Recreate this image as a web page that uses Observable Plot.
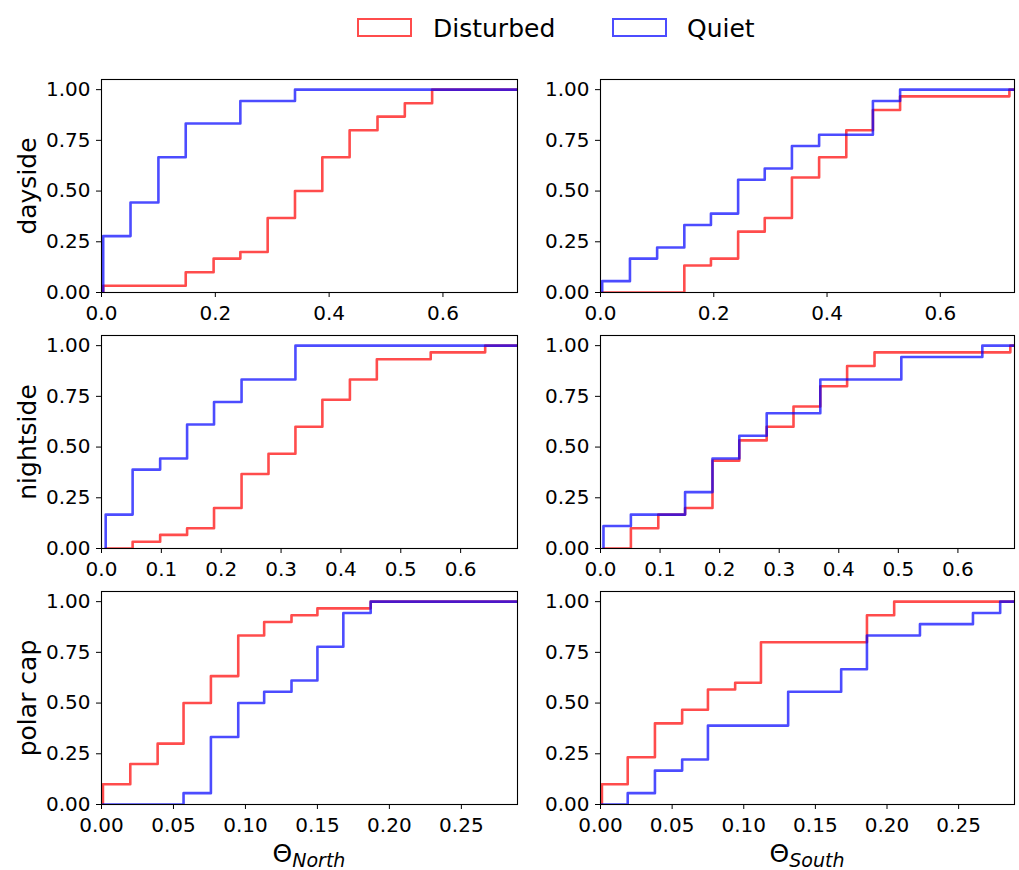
<!DOCTYPE html>
<html>
<head>
<meta charset="utf-8">
<script src="https://cdn.jsdelivr.net/npm/d3@7"></script>
<script src="https://cdn.jsdelivr.net/npm/@observablehq/plot@0.6"></script>
<style>
  html, body { margin: 0; padding: 0; background: white; }
  #wrap { position: relative; width: 1019px; height: 870px; font-family: "DejaVu Sans", sans-serif; color: black; overflow: hidden; }
  .panel { position: absolute; }
  .legbox { position: absolute; box-sizing: border-box; border: 2.5px solid; }
  .legtxt { position: absolute; font-size: 25px; line-height: 1; white-space: nowrap; }
  #xlabels { position: absolute; left: 0; top: 0; pointer-events: none; }
</style>
</head>
<body>
<div id="wrap">
  <div class="legbox" style="left:357px; top:18px; width:55px; height:19px; border-color: rgba(255,0,0,0.7);"></div>
  <div class="legtxt" style="left:433px; top:16px;">Disturbed</div>
  <div class="legbox" style="left:612px; top:18px; width:55px; height:19px; border-color: rgba(0,0,255,0.7);"></div>
  <div class="legtxt" style="left:687px; top:16px;">Quiet</div>
  <svg id="xlabels" width="1019" height="870" font-family="DejaVu Sans">
    <text x="309" y="862" text-anchor="middle" font-size="25">Θ<tspan font-size="19" font-style="italic" dy="5">North</tspan></text>
    <text x="807" y="862" text-anchor="middle" font-size="25">Θ<tspan font-size="19" font-style="italic" dy="5">South</tspan></text>
  </svg>
</div>
<script>
// ---------- data ----------
const seriesNames = ["Disturbed", "Quiet"];
const rowLabels = ["dayside", "nightside", "polar cap"];
const yTicks = [0, 0.25, 0.5, 0.75, 1.0];
const xTicksDay = [0, 0.2, 0.4, 0.6];
const xTicksNight = [0, 0.1, 0.2, 0.3, 0.4, 0.5, 0.6];
const xTicksPolar = [0, 0.05, 0.1, 0.15, 0.2, 0.25];
const xMaxDay = 0.731, xMaxNight = 0.695, xMaxPolar = 0.289;

// dayside, North
const dayNorthDistX = [0.003, 0.148, 0.197, 0.244, 0.292, 0.340, 0.388, 0.436, 0.485, 0.533, 0.581];
const dayNorthDistY = [0.033, 0.100, 0.167, 0.200, 0.367, 0.500, 0.667, 0.800, 0.867, 0.933, 1.000];
const dayNorthQuietX = [0.003, 0.051, 0.100, 0.148, 0.244, 0.340];
const dayNorthQuietY = [0.278, 0.444, 0.667, 0.833, 0.944, 1.000];
// dayside, South
const daySouthDistX = [0.003, 0.148, 0.195, 0.243, 0.290, 0.338, 0.386, 0.434, 0.481, 0.529, 0.722];
const daySouthDistY = [0.000, 0.133, 0.167, 0.300, 0.367, 0.567, 0.667, 0.800, 0.900, 0.967, 1.000];
const daySouthQuietX = [0.003, 0.052, 0.100, 0.148, 0.195, 0.243, 0.290, 0.338, 0.386, 0.481, 0.529];
const daySouthQuietY = [0.056, 0.167, 0.222, 0.333, 0.389, 0.556, 0.611, 0.722, 0.778, 0.944, 1.000];
// nightside, North
const nightNorthDistX = [0.007, 0.052, 0.098, 0.143, 0.188, 0.234, 0.279, 0.324, 0.369, 0.415, 0.460, 0.550, 0.641];
const nightNorthDistY = [0.000, 0.033, 0.067, 0.100, 0.200, 0.367, 0.467, 0.600, 0.733, 0.833, 0.933, 0.967, 1.000];
const nightNorthQuietX = [0.007, 0.052, 0.098, 0.143, 0.188, 0.234, 0.324];
const nightNorthQuietY = [0.167, 0.389, 0.444, 0.611, 0.722, 0.833, 1.000];
// nightside, South
const nightSouthDistX = [0.005, 0.051, 0.097, 0.142, 0.188, 0.233, 0.279, 0.324, 0.369, 0.414, 0.460, 0.688];
const nightSouthDistY = [0.000, 0.100, 0.167, 0.200, 0.433, 0.533, 0.600, 0.700, 0.800, 0.900, 0.967, 1.000];
const nightSouthQuietX = [0.005, 0.051, 0.142, 0.188, 0.233, 0.279, 0.369, 0.505, 0.641];
const nightSouthQuietY = [0.111, 0.167, 0.278, 0.444, 0.556, 0.667, 0.833, 0.944, 1.000];
// polar cap, North
const polarNorthDistX = [0.001, 0.020, 0.039, 0.057, 0.076, 0.095, 0.113, 0.132, 0.150, 0.187];
const polarNorthDistY = [0.100, 0.200, 0.300, 0.500, 0.633, 0.833, 0.900, 0.933, 0.967, 1.000];
const polarNorthQuietX = [0.001, 0.057, 0.076, 0.095, 0.113, 0.132, 0.150, 0.168, 0.187];
const polarNorthQuietY = [0.000, 0.056, 0.333, 0.500, 0.556, 0.611, 0.778, 0.944, 1.000];
// polar cap, South
const polarSouthDistX = [0.001, 0.019, 0.038, 0.057, 0.075, 0.094, 0.112, 0.186, 0.205];
const polarSouthDistY = [0.100, 0.233, 0.400, 0.467, 0.567, 0.600, 0.800, 0.933, 1.000];
const polarSouthQuietX = [0.001, 0.019, 0.038, 0.057, 0.075, 0.131, 0.168, 0.186, 0.223, 0.260, 0.279];
const polarSouthQuietY = [0.000, 0.056, 0.167, 0.222, 0.389, 0.556, 0.667, 0.833, 0.889, 0.944, 1.000];

// ---------- helpers ----------
function steps(xs, ys, xmax) {
  const pts = [{x: xs[0], y: 0}];
  xs.forEach((x, i) => pts.push({x, y: ys[i]}));
  pts.push({x: xmax, y: ys[ys.length - 1]});
  return pts;
}

const colors = {Disturbed: "red", Quiet: "blue"};

function panel(cfg) {
  const {dist, quiet, xMax, xTicks, xFmt, yLabel, col, row} = cfg;
  const left = col === 0 ? 0 : 520;
  const ml = col === 0 ? 101 : 80;
  const width = col === 0 ? 520 : 499;
  const mr = width - ml - (col === 0 ? 416 : 414);
  const frameTop = [79, 335, 591][row];
  const mt = 10, fh = 213, mb = 40;
  const plot = Plot.plot({
    width, height: mt + fh + mb,
    marginLeft: ml, marginRight: mr, marginTop: mt, marginBottom: mb,
    style: {fontFamily: "DejaVu Sans", fontSize: "20px", color: "black", background: "none", overflow: "visible"},
    x: {domain: [0, xMax]},
    y: {domain: [0, 1.05]},
    marks: [
      Plot.line(steps(dist[0], dist[1], xMax), {x: "x", y: "y", curve: "step-after", stroke: colors.Disturbed, strokeOpacity: 0.7, strokeWidth: 2.6, clip: true}),
      Plot.line(steps(quiet[0], quiet[1], xMax), {x: "x", y: "y", curve: "step-after", stroke: colors.Quiet, strokeOpacity: 0.7, strokeWidth: 2.6, clip: true}),
      Plot.frame({stroke: "black", strokeWidth: 1.1}),
      Plot.axisX({ticks: xTicks, tickFormat: d3.format(xFmt), tickSize: 5, tickPadding: 8, label: null, fontSize: 20}),
      Plot.axisY({ticks: yTicks, tickFormat: d3.format(".2f"), tickSize: 5, tickPadding: 6, label: null, fontSize: 20}),
      ...(yLabel ? [Plot.text([yLabel], {text: d => d, frameAnchor: "left", rotate: -90, dx: -74, fontSize: 25, textAnchor: "middle"})] : [])
    ]
  });
  plot.classList.add("panel");
  plot.style.left = left + "px";
  plot.style.top = (frameTop - mt) + "px";
  plot.style.position = "absolute";
  document.getElementById("wrap").appendChild(plot);
}

panel({dist: [dayNorthDistX, dayNorthDistY], quiet: [dayNorthQuietX, dayNorthQuietY], xMax: xMaxDay, xTicks: xTicksDay, xFmt: ".1f", yLabel: rowLabels[0], col: 0, row: 0});
panel({dist: [daySouthDistX, daySouthDistY], quiet: [daySouthQuietX, daySouthQuietY], xMax: xMaxDay, xTicks: xTicksDay, xFmt: ".1f", yLabel: null, col: 1, row: 0});
panel({dist: [nightNorthDistX, nightNorthDistY], quiet: [nightNorthQuietX, nightNorthQuietY], xMax: xMaxNight, xTicks: xTicksNight, xFmt: ".1f", yLabel: rowLabels[1], col: 0, row: 1});
panel({dist: [nightSouthDistX, nightSouthDistY], quiet: [nightSouthQuietX, nightSouthQuietY], xMax: xMaxNight, xTicks: xTicksNight, xFmt: ".1f", yLabel: null, col: 1, row: 1});
panel({dist: [polarNorthDistX, polarNorthDistY], quiet: [polarNorthQuietX, polarNorthQuietY], xMax: xMaxPolar, xTicks: xTicksPolar, xFmt: ".2f", yLabel: rowLabels[2], col: 0, row: 2});
panel({dist: [polarSouthDistX, polarSouthDistY], quiet: [polarSouthQuietX, polarSouthQuietY], xMax: xMaxPolar, xTicks: xTicksPolar, xFmt: ".2f", yLabel: null, col: 1, row: 2});
</script>
</body>
</html>
